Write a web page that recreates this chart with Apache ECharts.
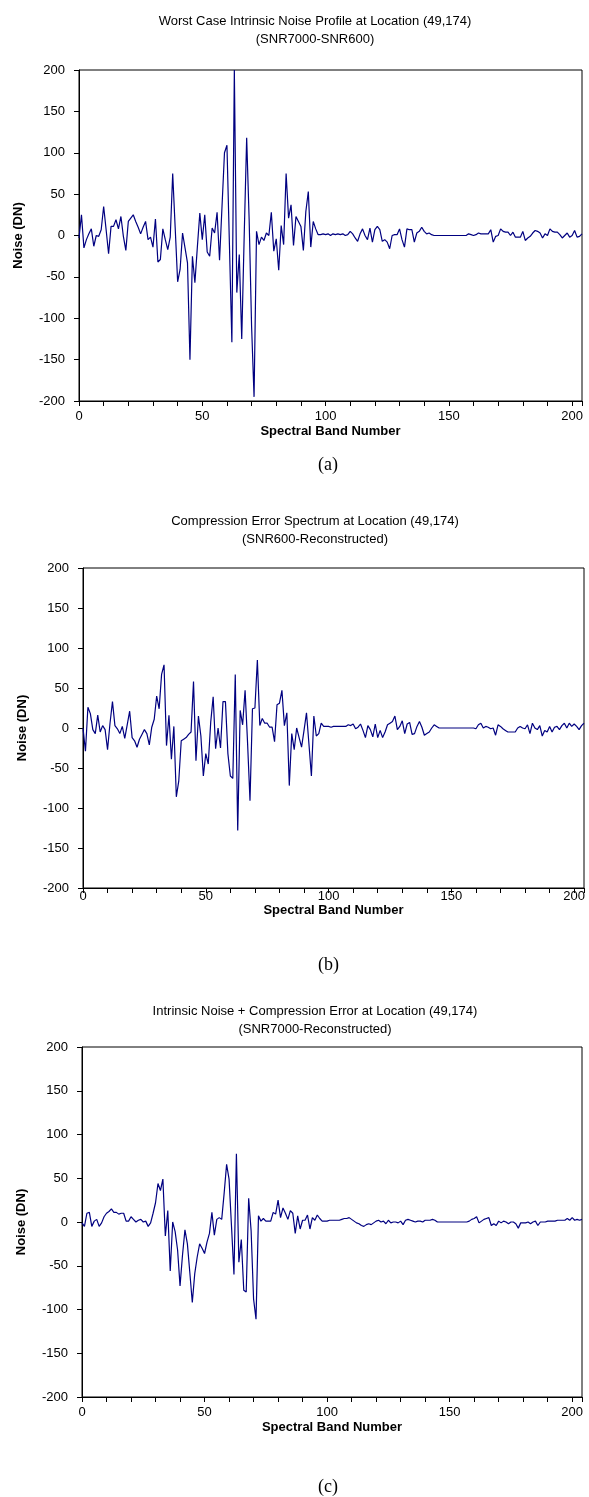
<!DOCTYPE html>
<html>
<head>
<meta charset="utf-8">
<script src="https://cdn.jsdelivr.net/npm/echarts@6/dist/echarts.min.js"></script>
<style>
  html, body { margin: 0; padding: 0; background: #fff; }
  #chart { width: 589px; height: 1497px; }
</style>
</head>
<body>
<div id="chart"></div>
<script>
// band index 0..204
const bands = [];
for (let b = 0; b <= 204; b++) bands.push(b);

// (a) SNR7000-SNR600
const noiseA = [
  -3, 25, -15, -5, 2, 8, -13, 0, -1, 7,
  35, 7, -22, 11, 11, 19, 8, 23, -1, -18,
  17, 21, 25, 17, 10, 2, 10, 17, -5, -2,
  -14, 20, -32, -29, 8, -5, -17, -2, 75, 10,
  -56, -41, 3, -15, -33, -150, -25, -57, -14, 27,
  -5, 25, -20, -25, 9, 3, 28, -30, 35, 100,
  109, -10, -129, 200, -69, -23, -125, 0, 118, 20,
  -110, -195, 5, -11, -2, -6, 3, 0, 28, -19,
  -4, -42, 12, -11, 75, 21, 37, -12, 23, 17,
  11, -18, 29, 53, -14, 17, 8, 1, 1, 2,
  1, 2, 0, 2, 1, 2, 1, 2, 0, 1,
  5, 2, -3, -7, 2, 8, 0, -5, 9, -8,
  7, 11, 7, -7, -5, -8, -16, 0, 1, 1,
  8, -5, -14, 8, 7, 7, -8, 3, 5, 10,
  5, 2, 3, 1, 0, 0, 0, 0, 0, 0,
  0, 0, 0, 0, 0, 0, 0, 0, 2, 1,
  0, 1, 3, 2, 2, 2, 2, 7, -8, -1,
  0, 8, 5, 4, 4, 0, 4, -2, -2, -2,
  5, -6, -3, -1, 3, 6, 5, 3, -3, 2,
  0, 8, 5, 4, 4, 1, -3, 0, 3, -2,
  0, 6, -2, -1, 2
];

// (b) SNR600-Reconstructed
const noiseB = [
  0, -29, 26, 18, -2, -7, 16, -5, 3, -2,
  -27, 6, 33, 3, -1, -7, 2, -13, 4, 21,
  -12, -16, -24, -14, -8, -2, -7, -21, 1, 11,
  40, 24, 67, 79, -22, 16, -39, 2, -86, -66,
  -16, -14, -12, -8, -5, 58, -41, 15, -10, -60,
  -32, -45, 7, 39, -26, 0, -25, 33, 33, -32,
  -60, -63, 67, -128, 22, 4, 47, -18, -91, 24,
  25, 85, 3, 12, 6, 6, 1, 1, -17, 29,
  31, 47, 3, 19, -72, -7, -27, 0, -12, -24,
  -3, 19, -20, -60, 15, -10, -7, 6, 2, 2,
  2, 1, 2, 2, 2, 2, 2, 2, 4, 3,
  5, -1, 1, 5, -3, -12, 3, -2, -11, 5,
  -12, -3, -12, -5, 4, 6, 8, 15, -2, 2,
  9, -7, 5, 7, -8, -7, 2, 8, 1, -9,
  -7, -5, 0, 4, 2, 0, 0, 0, 0, 0,
  0, 0, 0, 0, 0, 0, 0, 0, 0, 0,
  -1, 4, 6, 0, 2, 1, -1, 0, -9, 4,
  2, -1, -3, -5, -5, -5, -5, 0, 2, 0,
  -1, 4, -7, 6, 0, -2, 3, -10, -3, -5,
  2, -5, 1, 2, -2, 3, 6, 0, 6, 2,
  5, 2, -2, 3, 6
];

// (c) SNR7000-Reconstructed
const noiseC = [
  -1, -5, 10, 11, -5, 1, 3, -5, -1, 6,
  10, 12, 15, 11, 11, 9, 10, 10, 1, 1,
  6, 3, 0, 2, 3, 0, 1, -5, -1, 10,
  22, 44, 36, 49, -16, 13, -56, 0, -11, -32,
  -73, -38, -9, -25, -58, -92, -59, -40, -25, -30,
  -36, -23, -13, 11, -15, 3, 5, 3, 33, 66,
  49, -5, -60, 78, -46, -20, -78, -80, 27, -10,
  -88, -111, 7, 1, 4, 1, 1, 1, 11, 9,
  25, 5, 16, 10, 3, 13, 10, -13, 7, -8,
  2, 2, 8, -8, 5, 2, 8, 4, 1, 1,
  1, 2, 2, 2, 2, 2, 3, 4, 4, 5,
  3, 1, -1, -2, -4, -5, -3, -2, -3, -1,
  1, 2, 0, 1, -2, 2, -1, 0, 0, -1,
  1, -3, 2, 3, 2, 1, 0, 1, 1, 0,
  2, 2, 2, 3, 2, 0, 0, 0, 0, 0,
  0, 0, 0, 0, 0, 0, 0, 0, 1, 3,
  4, 6, -1, 1, 3, 4, 5, -4, -2, -4,
  1, -1, 1, 0, -2, 0, 0, -2, -7, -1,
  -1, -1, 0, -2, 0, 1, -4, 0, 0, 0,
  1, 1, 1, 1, 2, 2, 2, 2, 4, 2,
  5, 2, 3, 2, 3
];

const titles = [
  'Worst Case Intrinsic Noise Profile at Location (49,174)\n(SNR7000-SNR600)',
  'Compression Error Spectrum at Location (49,174)\n(SNR600-Reconstructed)',
  'Intrinsic Noise + Compression Error at Location (49,174)\n(SNR7000-Reconstructed)'
];
const panelTags = ['(a)', '(b)', '(c)'];
const series = [noiseA, noiseB, noiseC];

const sans = '"Liberation Sans", Arial, sans-serif';
const serif = '"Liberation Serif", "Times New Roman", serif';

// panel layout
const grids = [
  { left: 79, top: 70, width: 503, height: 331 },
  { left: 83, top: 568, width: 501, height: 320 },
  { left: 82, top: 1047, width: 500, height: 350 }
];
const titleTops = [7, 507, 997];
const xLabelMargins = [9, 2, 9];
const xNameGaps = [24, 6, 24];
const tagTops = [456, 956, 1478];

const chart = echarts.init(document.getElementById('chart'));

const option = {
  animation: false,
  backgroundColor: '#fff',
  title: titles.map((t, k) => ({
    text: t,
    left: 310,
    top: titleTops[k],
    textAlign: 'center',
    textStyle: { fontFamily: sans, fontSize: 13, fontWeight: 'normal', color: '#000', lineHeight: 18 }
  })),
  graphic: panelTags.map((t, k) => ({
    type: 'text',
    left: 318,
    top: tagTops[k],
    style: { text: t, font: '18px ' + serif, fill: '#000' }
  })),
  grid: grids.map(g => Object.assign({ show: true, borderColor: '#000', borderWidth: 1, backgroundColor: '#fff' }, g)),
  xAxis: grids.map((g, k) => ({
    type: 'value',
    gridIndex: k,
    min: 0,
    max: 204,
    interval: 50,
    name: 'Spectral Band Number',
    nameLocation: 'middle',
    nameGap: xNameGaps[k],
    nameTextStyle: { fontFamily: sans, fontSize: 13, fontWeight: 'bold', color: '#000' },
    axisLine: { onZero: false, lineStyle: { color: '#000', width: 1 } },
    axisTick: { show: true, length: 5, lineStyle: { color: '#000' } },
    minorTick: { show: true, splitNumber: 5, length: 5, lineStyle: { color: '#000' } },
    axisLabel: {
      fontFamily: sans, fontSize: 13, color: '#000', margin: xLabelMargins[k],
      formatter: v => (v % 50 === 0 ? String(v) : '')
    },
    splitLine: { show: false }
  })),
  yAxis: grids.map((g, k) => ({
    type: 'value',
    gridIndex: k,
    min: -200,
    max: 200,
    interval: 50,
    name: 'Noise (DN)',
    nameLocation: 'middle',
    nameGap: 54,
    nameTextStyle: { fontFamily: sans, fontSize: 13, fontWeight: 'bold', color: '#000' },
    axisLine: { show: true, onZero: false, lineStyle: { color: '#000', width: 1 } },
    axisTick: { show: true, length: 5, lineStyle: { color: '#000' } },
    axisLabel: { fontFamily: sans, fontSize: 13, color: '#000', margin: 14 },
    splitLine: { show: false }
  })),
  series: series.map((vals, k) => ({
    type: 'line',
    xAxisIndex: k,
    yAxisIndex: k,
    showSymbol: false,
    symbol: 'none',
    clip: true,
    lineStyle: { color: '#000080', width: 1.2 },
    data: bands.map((b, i) => [b, vals[i]])
  }))
};

chart.setOption(option);
</script>
</body>
</html>
